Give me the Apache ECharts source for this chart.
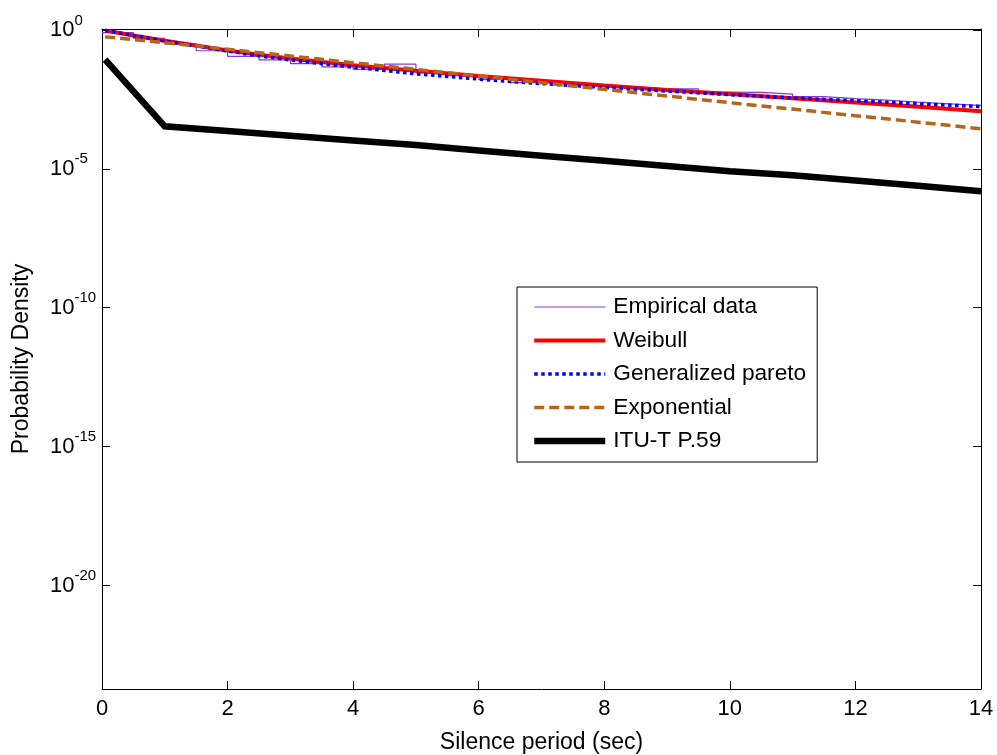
<!DOCTYPE html>
<html>
<head>
<meta charset="utf-8">
<script src="https://cdn.jsdelivr.net/npm/echarts@6/dist/echarts.min.js"></script>
<style>
  html, body { margin: 0; padding: 0; background: #fff; }
  #chart { width: 997px; height: 755px; }
</style>
</head>
<body>
<div id="chart"></div>
<script>
// Silence period grid (seconds) for each curve
var tEmpirical = [0, 0.5, 1, 1.5, 2, 2.5, 3, 3.5, 4, 4.5, 5, 5.5, 6, 6.5, 7, 7.5,
                  8, 8.5, 9, 9.5, 10, 10.5, 11, 11.5, 12, 12.5, 13, 13.5, 14];
var tFit = [0.05, 0.5, 1, 1.5, 2, 2.5, 3, 4, 5, 6, 7, 8, 9, 10, 11, 12, 13, 14];
var tCoarse = [0.05, 1, 2, 3, 4, 5, 6, 7, 8, 9, 10, 11, 12, 13, 14];

// Probability densities
var empirical = [0.794, 0.501, 0.316, 0.178, 0.112, 0.0832, 0.0617, 0.0468, 0.0380,
                 0.0589, 0.0282, 0.0224, 0.0166, 0.0126, 0.0117, 0.0100, 0.00891,
                 0.00759, 0.00759, 0.00575, 0.00562, 0.00490, 0.00398, 0.00339,
                 0.00295, 0.00251, 0.00219, 0.00191, 0.00191];
var weibull = [0.955, 0.631, 0.407, 0.275, 0.182, 0.129, 0.0933, 0.0537, 0.0339,
               0.0219, 0.0148, 0.0100, 0.00692, 0.00490, 0.00347, 0.00245, 0.00170, 0.00117];
var genPareto = [0.955, 0.631, 0.398, 0.263, 0.174, 0.117, 0.0832, 0.0457, 0.0263,
                 0.0170, 0.0117, 0.00851, 0.00631, 0.00468, 0.00355, 0.00282, 0.00219, 0.00174];
var exponential = [0.562, 0.347, 0.200, 0.115, 0.0661, 0.0380, 0.0219, 0.0126, 0.00724,
                   0.00417, 0.00240, 0.00141, 0.000813, 0.000479, 0.000275];
var ituP59 = [0.085, 3.39e-4, 2.29e-4, 1.55e-4, 1.05e-4, 7.2e-5, 4.6e-5, 2.95e-5, 1.95e-5,
              1.26e-5, 8.1e-6, 5.9e-6, 3.8e-6, 2.45e-6, 1.55e-6];

// Axis ranges and ticks
var xTicks = { min: 0, max: 14, interval: 2 };
var yMin = 1.87e-24, yMax = 1.08;
var yTickValues = [1, 1e-5, 1e-10, 1e-15, 1e-20];

var FONT = '"Liberation Sans", Arial, Helvetica, sans-serif';

function pairs(xs, ys) {
  return xs.map(function (x, i) { return [x, ys[i]]; });
}

var chart = echarts.init(document.getElementById('chart'), null, { renderer: 'canvas' });

var tickStyle = { show: true, inside: true, length: 8, lineStyle: { color: '#000', width: 1 } };
var lineStyleAxis = { show: true, onZero: false, lineStyle: { color: '#000', width: 1 } };

chart.setOption({
  animation: false,
  backgroundColor: '#fff',
  grid: { left: 102, right: 16, top: 29, bottom: 66, containLabel: false, outerBoundsMode: 'none' },
  legend: {
    orient: 'vertical',
    left: 517,
    top: 287,
    padding: [8, 11, 9, 14],
    itemGap: 9.5,
    itemWidth: 71,
    itemHeight: 14,
    borderColor: '#000',
    borderWidth: 1,
    backgroundColor: '#fff',
    itemStyle: { opacity: 0 },
    textStyle: { fontFamily: FONT, fontSize: 22.7, color: '#000', lineHeight: 24, padding: [0, 0, 0, 3] },
    data: [
      { name: 'Empirical data', lineStyle: { width: 1.2 } },
      { name: 'Weibull', lineStyle: { width: 4 } },
      { name: 'Generalized pareto', lineStyle: { width: 3.5 } },
      { name: 'Exponential', lineStyle: { width: 3.5 } },
      { name: 'ITU-T P.59', lineStyle: { width: 6.5 } }
    ]
  },
  xAxis: [{
    type: 'value',
    min: xTicks.min, max: xTicks.max, interval: xTicks.interval,
    position: 'bottom',
    name: 'Silence period (sec)',
    nameLocation: 'middle',
    nameGap: 42,
    nameTextStyle: { fontFamily: FONT, fontSize: 23, color: '#000' },
    axisLine: lineStyleAxis,
    axisTick: tickStyle,
    splitLine: { show: false },
    axisLabel: { fontFamily: FONT, fontSize: 22, color: '#000', margin: 9 }
  }, {
    type: 'value',
    min: xTicks.min, max: xTicks.max, interval: xTicks.interval,
    position: 'top',
    axisLine: lineStyleAxis,
    axisTick: tickStyle,
    splitLine: { show: false },
    axisLabel: { show: false }
  }],
  yAxis: [{
    type: 'log',
    logBase: 10,
    min: yMin, max: yMax,
    position: 'left',
    name: 'Probability Density',
    nameLocation: 'middle',
    nameGap: 69,
    nameTextStyle: { fontFamily: FONT, fontSize: 23, color: '#000' },
    axisLine: lineStyleAxis,
    axisTick: Object.assign({}, tickStyle, { customValues: yTickValues }),
    minorTick: { show: false },
    splitLine: { show: false },
    axisLabel: {
      customValues: yTickValues,
      align: 'left',
      margin: 52,
      formatter: function (v) {
        var e = Math.round(Math.log(v) / Math.LN10);
        return '{b|10}{s|' + e + '}';
      },
      rich: {
        b: { fontFamily: FONT, fontSize: 22, lineHeight: 34, color: '#000', verticalAlign: 'middle' },
        s: { fontFamily: FONT, fontSize: 15, lineHeight: 15, color: '#000', verticalAlign: 'top' }
      }
    }
  }, {
    type: 'log',
    logBase: 10,
    min: yMin, max: yMax,
    position: 'right',
    axisLine: lineStyleAxis,
    axisTick: Object.assign({}, tickStyle, { customValues: yTickValues }),
    minorTick: { show: false },
    splitLine: { show: false },
    axisLabel: { show: false, customValues: yTickValues }
  }],
  series: [{
    name: 'Empirical data',
    type: 'line',
    step: 'end',
    showSymbol: false,
    symbol: 'none',
    color: '#7b3fd9',
    lineStyle: { color: '#7b3fd9', width: 1.2 },
    data: pairs(tEmpirical, empirical),
    z: 2
  }, {
    name: 'Weibull',
    type: 'line',
    symbol: 'none',
    color: '#ff0000',
    lineStyle: { color: '#ff0000', width: 4 },
    data: pairs(tFit, weibull),
    z: 3
  }, {
    name: 'Generalized pareto',
    type: 'line',
    symbol: 'none',
    color: '#0000ff',
    lineStyle: { color: '#0000ff', width: 3.5, type: [3.5, 3.5] },
    data: pairs(tFit, genPareto),
    z: 4
  }, {
    name: 'Exponential',
    type: 'line',
    symbol: 'none',
    color: '#b3661a',
    lineStyle: { color: '#b3661a', width: 3.5, type: [10, 5] },
    data: pairs(tCoarse, exponential),
    z: 5
  }, {
    name: 'ITU-T P.59',
    type: 'line',
    symbol: 'none',
    color: '#000000',
    lineStyle: { color: '#000000', width: 6.5, join: 'miter' },
    data: pairs(tCoarse, ituP59),
    z: 6
  }]
});
</script>
</body>
</html>
